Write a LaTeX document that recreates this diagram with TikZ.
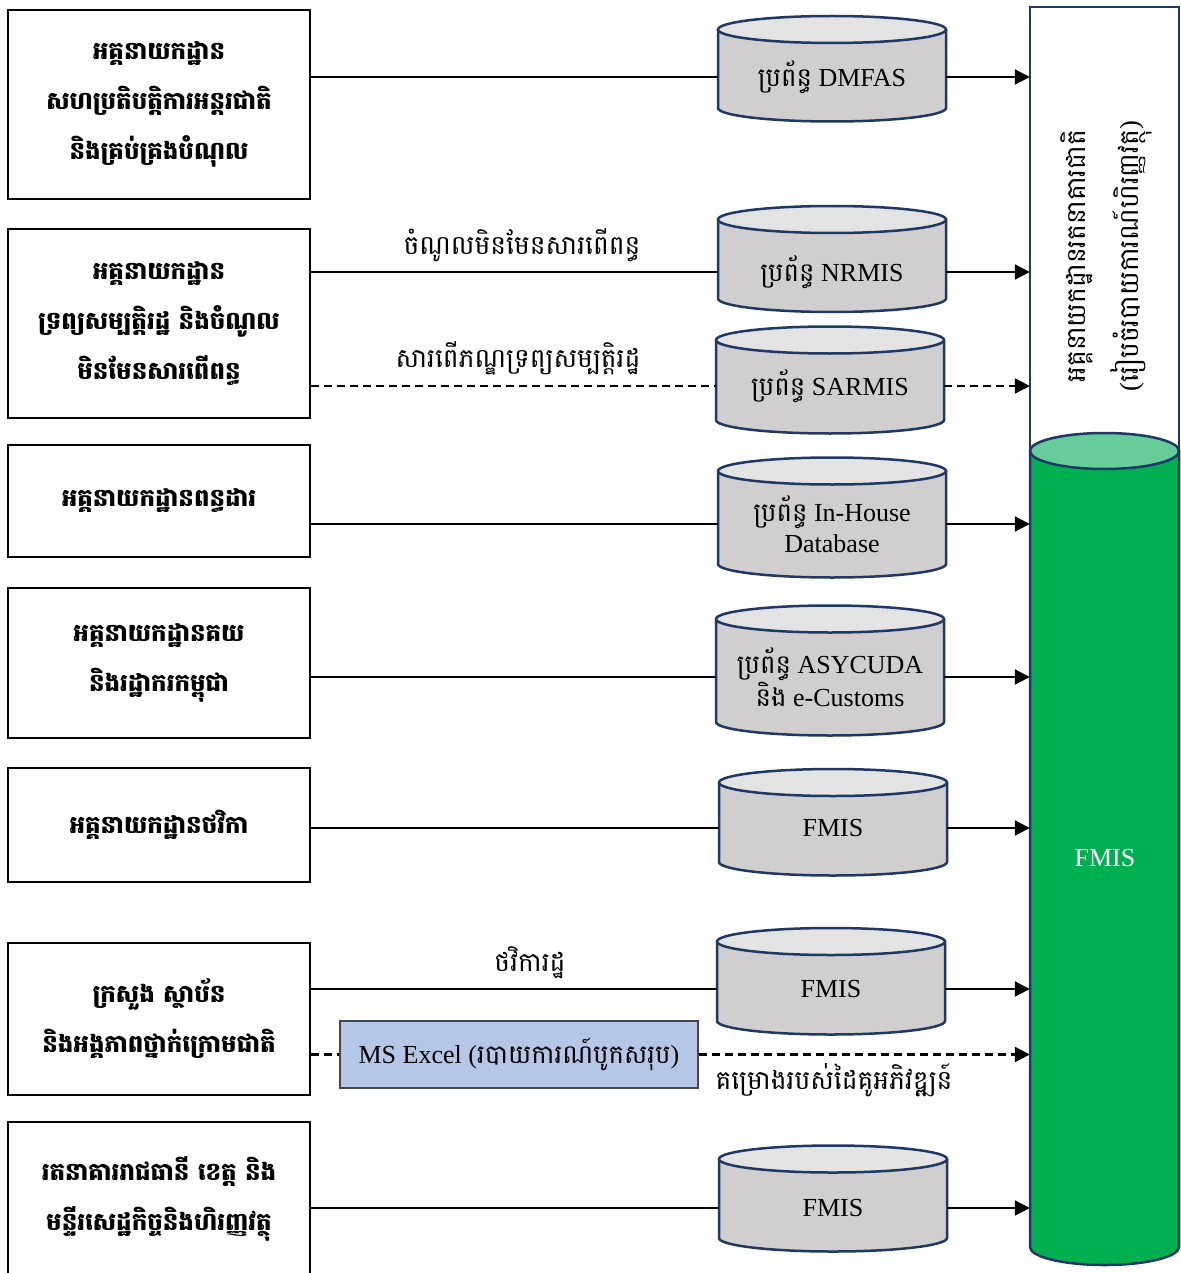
\documentclass[tikz,border=0pt]{standalone}
\usepackage{fontspec}
\setmainfont{Liberation Serif}
\newfontfamily\kh[Script=Khmer]{Battambang}
\usetikzlibrary{arrows.meta,calc}
\pgfdeclarelayer{background}
\pgfsetlayers{background,main}
\definecolor{navy}{HTML}{1F3864}
\definecolor{dbgray}{HTML}{D0CECE}
\definecolor{dbtop}{HTML}{E3E3E3}
\definecolor{fgreen}{HTML}{00B050}
\definecolor{fgreentop}{HTML}{66CC99}
\definecolor{xlblue}{HTML}{B4C7E7}

% database drum behind node #1: half width #2, top rim #3 above, bottom rim #4 below
\newcommand\dbdraw[4]{%
  \begin{pgfonlayer}{background}
    \path[fill=dbgray] ($(#1.center)+(-#2,#3)$) -- ($(#1.center)+(-#2,-#4)$)
      arc[start angle=180,end angle=360,x radius=#2pt,y radius=13.5pt]
      -- ($(#1.center)+(#2,#3)$) -- cycle;
    \draw[dbline] ($(#1.center)+(-#2,#3)$) -- ($(#1.center)+(-#2,-#4)$)
      arc[start angle=180,end angle=360,x radius=#2pt,y radius=13.5pt]
      -- ($(#1.center)+(#2,#3)$);
    \draw[dbline,fill=dbtop] ($(#1.center)+(0,#3)$) ellipse [x radius=#2pt,y radius=13.5pt];
  \end{pgfonlayer}}

\begin{document}
\begin{tikzpicture}[x=1pt,y=1pt,
  unit/.style={draw=black,line width=2.5pt,minimum width=302pt,inner sep=0pt,align=center,
    font={\kh\bfseries\fontsize{24.5}{50}\selectfont}},
  db/.style={minimum width=228pt,inner sep=0pt,align=center,font={\fontsize{26}{29}\selectfont}},
  dbline/.style={draw=navy,line width=2.5pt},
  flow/.style={line width=2.2pt},
  feed/.style={flow,-{Triangle[length=15pt,width=15pt]}},
  plan/.style={dash pattern=on 8pt off 5pt},
  lbl/.style={inner sep=0pt,font={\kh\fontsize{26.5}{30}\selectfont}},
]
\useasboundingbox (0,0) rectangle (1180,-1273);

% ---- treasury column: white header over the green FMIS drum ----
\node[minimum width=149pt,minimum height=1258pt,inner sep=0pt] (fin) at (1104.5,-636) {};
\draw[navy,line width=2pt,fill=white] (1030,-451) -- (1030,-7) -- (1179,-7) -- (1179,-451);
\path[fill=fgreen] (1030,-451) -- (1030,-1247)
  arc[start angle=180,end angle=360,x radius=74.5pt,y radius=18pt] -- (1179,-451) -- cycle;
\draw[navy,line width=2.5pt] (1030,-451) -- (1030,-1247)
  arc[start angle=180,end angle=360,x radius=74.5pt,y radius=18pt] -- (1179,-451);
\draw[navy,line width=2.5pt,fill=fgreentop] (1104.5,-451) ellipse [x radius=74.5pt,y radius=18pt];
\node[text=white,font={\fontsize{26}{29}\selectfont}] (fmis) at (1105,-858) {FMIS};
\node[rotate=90,align=center,font={\fontsize{26.5}{53}\selectfont}] (mef) at (1106,-256)
  {{\kh អគ្គនាយកដ្ឋានរតនាគារជាតិ}\\({\kh រៀបចំរបាយការណ៍ហិរញ្ញវត្ថុ})};

% ---- source departments ----
\node[unit,minimum height=189pt] (b1) at (159,-104.5)
  {អគ្គនាយកដ្ឋាន\\សហប្រតិបត្តិការអន្តរជាតិ\\និងគ្រប់គ្រងបំណុល};
\node[unit,minimum height=189pt] (b2) at (159,-323.5)
  {អគ្គនាយកដ្ឋាន\\ទ្រព្យសម្បត្តិរដ្ឋ និងចំណូល\\មិនមែនសារពើពន្ធ};
\node[unit,minimum height=112pt] (b3) at (159,-501) {អគ្គនាយកដ្ឋានពន្ធដារ};
\node[unit,minimum height=150pt] (b4) at (159,-663) {អគ្គនាយកដ្ឋានគយ\\និងរដ្ឋាករកម្ពុជា};
\node[unit,minimum height=114pt] (b5) at (159,-825) {អគ្គនាយកដ្ឋានថវិកា};
\node[unit,minimum height=152pt] (b6) at (159,-1019) {ក្រសួង ស្ថាប័ន\\និងអង្គភាពថ្នាក់ក្រោមជាតិ};
\node[unit,minimum height=154pt] (b7) at (159,-1199) {រតនាគាររាជធានី ខេត្ត និង\\មន្ទីរសេដ្ឋកិច្ចនិងហិរញ្ញវត្ថុ};

% ---- information systems ----
\node[db] (d1) at (832,-77) {{\kh ប្រព័ន្ធ} DMFAS};
\node[db] (d2) at (832,-272) {{\kh ប្រព័ន្ធ} NRMIS};
\node[db] (d3) at (830,-386) {{\kh ប្រព័ន្ធ} SARMIS};
\node[db,font={\fontsize{26}{31}\selectfont}] (d4) at (832,-524) {{\kh ប្រព័ន្ធ} In-House\\Database};
\node[db] (d5) at (830,-677) {{\kh ប្រព័ន្ធ} ASYCUDA\\{\kh និង} e-Customs};
\node[db] (d6) at (833,-828) {FMIS};
\node[db] (d7) at (831,-989) {FMIS};
\node[db] (d8) at (833,-1208) {FMIS};
\dbdraw{d1}{114}{47.5}{31}
\dbdraw{d2}{114}{52.5}{26.5}
\dbdraw{d3}{114}{46}{34}
\dbdraw{d4}{114}{53}{40}
\dbdraw{d5}{114}{58}{45}
\dbdraw{d6}{114}{45.5}{34}
\dbdraw{d7}{114}{47.5}{32}
\dbdraw{d8}{114}{49}{30}

\node[draw=gray!55!black,line width=1.2pt,fill=xlblue,minimum width=358pt,minimum height=67pt,
  inner sep=0pt,font={\fontsize{26}{29}\selectfont}] (xl) at (519,-1054.5)
  {MS Excel ({\kh របាយការណ៍បូកសរុប})};

% ---- flow labels ----
\node[lbl] (t1) at (522,-245) {ចំណូលមិនមែនសារពើពន្ធ};
\node[lbl] (t2) at (518,-358) {សារពើភណ្ឌទ្រព្យសម្បត្តិរដ្ឋ};
\node[lbl] (t3) at (530,-963) {ថវិការដ្ឋ};
\node[lbl] (t4) at (834,-1080) {គម្រោងរបស់ដៃគូអភិវឌ្ឍន៍};

% ---- connectors ----
\draw[flow] (b1.east |- d1.west) -- (d1.west);
\draw[feed] (d1.east) -- (d1.east -| fin.west);
\draw[flow] (b2.east |- d2.west) -- (d2.west);
\draw[feed] (d2.east) -- (d2.east -| fin.west);
\draw[flow,plan] (b2.east |- d3.west) -- (d3.west);
\draw[feed,plan] (d3.east) -- (d3.east -| fin.west);
\draw[flow] (b3.east |- d4.west) -- (d4.west);
\draw[feed] (d4.east) -- (d4.east -| fin.west);
\draw[flow] (b4.east |- d5.west) -- (d5.west);
\draw[feed] (d5.east) -- (d5.east -| fin.west);
\draw[flow] (b5.east |- d6.west) -- (d6.west);
\draw[feed] (d6.east) -- (d6.east -| fin.west);
\draw[flow] (b6.east |- d7.west) -- (d7.west);
\draw[feed] (d7.east) -- (d7.east -| fin.west);
\draw[flow,plan] (b6.east |- xl.west) -- (xl.west);
\draw[feed,plan] (xl.east) -- (xl.east -| fin.west);
\draw[flow] (b7.east |- d8.west) -- (d8.west);
\draw[feed] (d8.east) -- (d8.east -| fin.west);
\end{tikzpicture}
\end{document}
